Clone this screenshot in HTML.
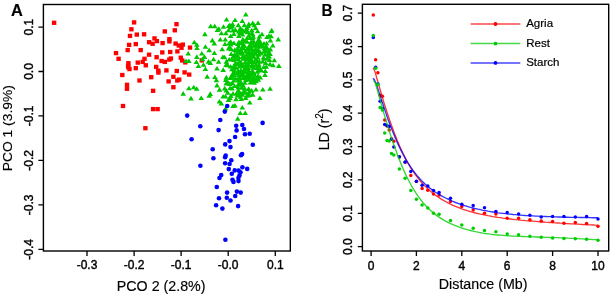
<!DOCTYPE html>
<html><head><meta charset="utf-8"><style>html,body{margin:0;padding:0;background:#fff;width:610px;height:296px;overflow:hidden}svg{display:block;will-change:transform}text{stroke:#000;stroke-width:0.15px}.tk text{stroke-width:0.4px}.lg{stroke-width:0.2px}</style></head><body>
<svg width="610" height="296" viewBox="0 0 610 296">
<rect width="610" height="296" fill="#fff"/>
<g fill="#ff0000">
<rect x="51.90" y="20.65" width="4.4" height="4.3"/>
<rect x="131.90" y="20.25" width="4.4" height="4.3"/>
<rect x="129.20" y="27.15" width="4.4" height="4.3"/>
<rect x="127.80" y="33.75" width="4.4" height="4.3"/>
<rect x="134.60" y="32.45" width="4.4" height="4.3"/>
<rect x="126.90" y="42.75" width="4.4" height="4.3"/>
<rect x="133.60" y="41.95" width="4.4" height="4.3"/>
<rect x="125.50" y="47.95" width="4.4" height="4.3"/>
<rect x="138.50" y="47.95" width="4.4" height="4.3"/>
<rect x="174.30" y="22.05" width="4.4" height="4.3"/>
<rect x="172.60" y="28.15" width="4.4" height="4.3"/>
<rect x="162.60" y="29.25" width="4.4" height="4.3"/>
<rect x="141.90" y="32.15" width="4.4" height="4.3"/>
<rect x="152.30" y="36.25" width="4.4" height="4.3"/>
<rect x="154.70" y="38.95" width="4.4" height="4.3"/>
<rect x="146.90" y="40.05" width="4.4" height="4.3"/>
<rect x="150.40" y="41.65" width="4.4" height="4.3"/>
<rect x="167.20" y="36.95" width="4.4" height="4.3"/>
<rect x="167.20" y="39.25" width="4.4" height="4.3"/>
<rect x="160.40" y="40.95" width="4.4" height="4.3"/>
<rect x="173.40" y="41.45" width="4.4" height="4.3"/>
<rect x="176.60" y="43.35" width="4.4" height="4.3"/>
<rect x="180.60" y="42.45" width="4.4" height="4.3"/>
<rect x="179.30" y="45.65" width="4.4" height="4.3"/>
<rect x="175.20" y="49.25" width="4.4" height="4.3"/>
<rect x="187.80" y="45.45" width="4.4" height="4.3"/>
<rect x="168.00" y="49.85" width="4.4" height="4.3"/>
<rect x="160.10" y="50.25" width="4.4" height="4.3"/>
<rect x="168.70" y="56.35" width="4.4" height="4.3"/>
<rect x="178.60" y="55.55" width="4.4" height="4.3"/>
<rect x="180.00" y="58.35" width="4.4" height="4.3"/>
<rect x="183.10" y="60.25" width="4.4" height="4.3"/>
<rect x="199.60" y="58.25" width="4.4" height="4.3"/>
<rect x="113.80" y="50.95" width="4.4" height="4.3"/>
<rect x="116.40" y="56.65" width="4.4" height="4.3"/>
<rect x="126.20" y="61.05" width="4.4" height="4.3"/>
<rect x="135.60" y="60.45" width="4.4" height="4.3"/>
<rect x="125.90" y="63.75" width="4.4" height="4.3"/>
<rect x="127.30" y="66.95" width="4.4" height="4.3"/>
<rect x="133.60" y="66.05" width="4.4" height="4.3"/>
<rect x="120.10" y="72.85" width="4.4" height="4.3"/>
<rect x="137.30" y="78.35" width="4.4" height="4.3"/>
<rect x="124.80" y="82.65" width="4.4" height="4.3"/>
<rect x="124.80" y="86.65" width="4.4" height="4.3"/>
<rect x="146.90" y="52.55" width="4.4" height="4.3"/>
<rect x="154.40" y="55.05" width="4.4" height="4.3"/>
<rect x="142.30" y="56.65" width="4.4" height="4.3"/>
<rect x="140.50" y="59.75" width="4.4" height="4.3"/>
<rect x="143.60" y="63.15" width="4.4" height="4.3"/>
<rect x="159.40" y="58.85" width="4.4" height="4.3"/>
<rect x="162.60" y="59.75" width="4.4" height="4.3"/>
<rect x="154.00" y="64.75" width="4.4" height="4.3"/>
<rect x="156.10" y="68.55" width="4.4" height="4.3"/>
<rect x="164.20" y="68.25" width="4.4" height="4.3"/>
<rect x="174.60" y="68.85" width="4.4" height="4.3"/>
<rect x="149.00" y="75.05" width="4.4" height="4.3"/>
<rect x="171.20" y="74.65" width="4.4" height="4.3"/>
<rect x="166.40" y="79.25" width="4.4" height="4.3"/>
<rect x="175.10" y="78.35" width="4.4" height="4.3"/>
<rect x="120.80" y="103.85" width="4.4" height="4.3"/>
<rect x="171.20" y="85.05" width="4.4" height="4.3"/>
<rect x="150.90" y="88.65" width="4.4" height="4.3"/>
<rect x="150.90" y="106.95" width="4.4" height="4.3"/>
<rect x="155.40" y="106.95" width="4.4" height="4.3"/>
<rect x="143.20" y="126.05" width="4.4" height="4.3"/>
<rect x="182.40" y="70.25" width="4.4" height="4.3"/>
<rect x="187.00" y="72.45" width="4.4" height="4.3"/>
<rect x="177.00" y="77.45" width="4.4" height="4.3"/>
<rect x="167.10" y="57.45" width="4.4" height="4.3"/>
<rect x="156.20" y="70.45" width="4.4" height="4.3"/>
<rect x="126.20" y="65.25" width="4.4" height="4.3"/>
</g>
<path fill="#00c800" d="M252.7 20.6L255.5 25.2L249.9 25.2ZM258.1 20.5L260.9 25.1L255.3 25.1ZM214.7 23.6L217.5 28.2L211.9 28.2ZM229.9 22.6L232.7 27.2L227.1 27.2ZM232.3 23.6L235.1 28.2L229.5 28.2ZM248.1 23.4L250.9 28.0L245.3 28.0ZM254.3 22.6L257.1 27.2L251.5 27.2ZM231.0 24.9L233.8 29.5L228.2 29.5ZM240.4 25.7L243.2 30.3L237.6 30.3ZM246.8 25.3L249.6 29.9L244.0 29.9ZM255.6 25.4L258.4 30.0L252.8 30.0ZM217.4 27.4L220.2 32.0L214.6 32.0ZM232.8 28.0L235.6 32.6L230.0 32.6ZM235.4 27.3L238.2 31.9L232.6 31.9ZM238.7 29.0L241.5 33.6L235.9 33.6ZM242.8 27.7L245.6 32.3L240.0 32.3ZM245.6 28.8L248.4 33.4L242.8 33.4ZM247.2 28.2L250.0 32.8L244.4 32.8ZM251.8 27.7L254.6 32.3L249.0 32.3ZM257.6 28.7L260.4 33.3L254.8 33.3ZM271.7 27.8L274.5 32.4L268.9 32.4ZM225.9 30.7L228.7 35.3L223.1 35.3ZM233.8 31.4L236.6 36.0L231.0 36.0ZM240.0 30.4L242.8 35.0L237.2 35.0ZM252.8 31.7L255.6 36.3L250.0 36.3ZM230.7 33.4L233.5 38.0L227.9 38.0ZM238.8 33.4L241.6 38.0L236.0 38.0ZM248.8 32.9L251.6 37.5L246.0 37.5ZM253.2 34.2L256.0 38.8L250.4 38.8ZM259.4 33.9L262.2 38.5L256.6 38.5ZM269.0 33.2L271.8 37.8L266.2 37.8ZM225.3 36.9L228.1 41.5L222.5 41.5ZM242.9 36.8L245.7 41.4L240.1 41.4ZM247.1 35.4L249.9 40.0L244.3 40.0ZM250.3 35.5L253.1 40.1L247.5 40.1ZM252.5 35.7L255.3 40.3L249.7 40.3ZM258.8 36.8L261.6 41.4L256.0 41.4ZM212.3 37.8L215.1 42.4L209.5 42.4ZM230.7 39.2L233.5 43.8L227.9 43.8ZM238.9 39.4L241.7 44.0L236.1 44.0ZM241.5 39.4L244.3 44.0L238.7 44.0ZM245.1 38.5L247.9 43.1L242.3 43.1ZM247.2 39.2L250.0 43.8L244.4 43.8ZM251.1 39.4L253.9 44.0L248.3 44.0ZM253.5 38.8L256.3 43.4L250.7 43.4ZM257.3 39.2L260.1 43.8L254.5 43.8ZM259.7 38.3L262.5 42.9L256.9 42.9ZM225.0 41.5L227.8 46.1L222.2 46.1ZM229.2 40.6L232.0 45.2L226.4 45.2ZM230.8 42.0L233.6 46.6L228.0 46.6ZM233.9 40.4L236.7 45.0L231.1 45.0ZM237.8 41.5L240.6 46.1L235.0 46.1ZM240.9 40.5L243.7 45.1L238.1 45.1ZM243.3 41.8L246.1 46.4L240.5 46.4ZM250.2 42.1L253.0 46.7L247.4 46.7ZM252.0 40.6L254.8 45.2L249.2 45.2ZM256.1 41.8L258.9 46.4L253.3 46.4ZM259.1 41.5L261.9 46.1L256.3 46.1ZM260.8 40.5L263.6 45.1L258.0 45.1ZM264.0 40.9L266.8 45.5L261.2 45.5ZM266.6 40.8L269.4 45.4L263.8 45.4ZM229.3 44.6L232.1 49.2L226.5 49.2ZM238.5 43.8L241.3 48.4L235.7 48.4ZM242.5 44.3L245.3 48.9L239.7 48.9ZM244.7 43.6L247.5 48.2L241.9 48.2ZM248.6 44.2L251.4 48.8L245.8 48.8ZM250.4 43.8L253.2 48.4L247.6 48.4ZM254.1 43.2L256.9 47.8L251.3 47.8ZM257.7 43.4L260.5 48.0L254.9 48.0ZM259.6 44.2L262.4 48.8L256.8 48.8ZM262.4 43.3L265.2 47.9L259.6 47.9ZM265.7 43.9L268.5 48.5L262.9 48.5ZM222.2 46.7L225.0 51.3L219.4 51.3ZM228.7 46.0L231.5 50.6L225.9 50.6ZM231.4 46.7L234.2 51.3L228.6 51.3ZM234.8 47.3L237.6 51.9L232.0 51.9ZM237.8 47.0L240.6 51.6L235.0 51.6ZM240.5 47.3L243.3 51.9L237.7 51.9ZM243.6 45.9L246.4 50.5L240.8 50.5ZM247.3 46.5L250.1 51.1L244.5 51.1ZM249.6 46.6L252.4 51.2L246.8 51.2ZM252.5 46.7L255.3 51.3L249.7 51.3ZM255.5 46.3L258.3 50.9L252.7 50.9ZM258.0 46.8L260.8 51.4L255.2 51.4ZM264.2 45.7L267.0 50.3L261.4 50.3ZM267.3 45.6L270.1 50.2L264.5 50.2ZM270.4 46.8L273.2 51.4L267.6 51.4ZM236.2 48.2L239.0 52.8L233.4 52.8ZM239.8 49.4L242.6 54.0L237.0 54.0ZM241.3 48.5L244.1 53.1L238.5 53.1ZM245.5 48.8L248.3 53.4L242.7 53.4ZM248.7 49.6L251.5 54.2L245.9 54.2ZM251.7 49.3L254.5 53.9L248.9 53.9ZM254.3 49.8L257.1 54.4L251.5 54.4ZM257.6 48.5L260.4 53.1L254.8 53.1ZM260.1 49.5L262.9 54.1L257.3 54.1ZM263.7 49.2L266.5 53.8L260.9 53.8ZM265.5 48.4L268.3 53.0L262.7 53.0ZM268.2 49.0L271.0 53.6L265.4 53.6ZM231.2 51.4L234.0 56.0L228.4 56.0ZM234.7 51.9L237.5 56.5L231.9 56.5ZM236.7 52.1L239.5 56.7L233.9 56.7ZM240.6 50.9L243.4 55.5L237.8 55.5ZM242.6 51.1L245.4 55.7L239.8 55.7ZM246.7 52.0L249.5 56.6L243.9 56.6ZM250.2 51.9L253.0 56.5L247.4 56.5ZM252.7 52.1L255.5 56.7L249.9 56.7ZM255.8 51.2L258.6 55.8L253.0 55.8ZM258.4 52.2L261.2 56.8L255.6 56.8ZM260.9 50.9L263.7 55.5L258.1 55.5ZM265.2 52.0L268.0 56.6L262.4 56.6ZM268.1 52.2L270.9 56.8L265.3 56.8ZM270.1 51.3L272.9 55.9L267.3 55.9ZM224.6 54.7L227.4 59.3L221.8 59.3ZM233.4 53.4L236.2 58.0L230.6 58.0ZM236.3 54.9L239.1 59.5L233.5 59.5ZM238.7 54.7L241.5 59.3L235.9 59.3ZM242.6 54.3L245.4 58.9L239.8 58.9ZM244.8 54.4L247.6 59.0L242.0 59.0ZM248.3 53.7L251.1 58.3L245.5 58.3ZM250.8 54.6L253.6 59.2L248.0 59.2ZM253.9 54.1L256.7 58.7L251.1 58.7ZM257.8 54.8L260.6 59.4L255.0 59.4ZM263.4 54.9L266.2 59.5L260.6 59.5ZM269.2 54.0L272.0 58.6L266.4 58.6ZM229.2 57.0L232.0 61.6L226.4 61.6ZM231.7 56.4L234.5 61.0L228.9 61.0ZM233.9 57.3L236.7 61.9L231.1 61.9ZM237.6 56.7L240.4 61.3L234.8 61.3ZM243.3 56.2L246.1 60.8L240.5 60.8ZM247.0 56.3L249.8 60.9L244.2 60.9ZM249.2 57.0L252.0 61.6L246.4 61.6ZM251.7 57.8L254.5 62.4L248.9 62.4ZM255.5 57.0L258.3 61.6L252.7 61.6ZM264.1 56.1L266.9 60.7L261.3 60.7ZM266.9 56.2L269.7 60.8L264.1 60.8ZM274.3 57.7L277.1 62.3L271.5 62.3ZM226.4 59.1L229.2 63.7L223.6 63.7ZM235.5 60.3L238.3 64.9L232.7 64.9ZM239.7 58.9L242.5 63.5L236.9 63.5ZM241.3 60.3L244.1 64.9L238.5 64.9ZM245.2 59.4L248.0 64.0L242.4 64.0ZM248.6 59.5L251.4 64.1L245.8 64.1ZM250.4 59.0L253.2 63.6L247.6 63.6ZM254.4 59.6L257.2 64.2L251.6 64.2ZM257.7 59.1L260.5 63.7L254.9 63.7ZM259.4 59.1L262.2 63.7L256.6 63.7ZM262.7 58.9L265.5 63.5L259.9 63.5ZM265.7 60.3L268.5 64.9L262.9 64.9ZM226.1 62.3L228.9 66.9L223.3 66.9ZM227.7 62.6L230.5 67.2L224.9 67.2ZM234.2 62.8L237.0 67.4L231.4 67.4ZM237.5 61.3L240.3 65.9L234.7 65.9ZM240.5 62.8L243.3 67.4L237.7 67.4ZM242.9 62.7L245.7 67.3L240.1 67.3ZM245.9 61.9L248.7 66.5L243.1 66.5ZM248.6 62.2L251.4 66.8L245.8 66.8ZM252.5 61.5L255.3 66.1L249.7 66.1ZM256.1 62.8L258.9 67.4L253.3 67.4ZM258.9 61.9L261.7 66.5L256.1 66.5ZM270.0 61.6L272.8 66.2L267.2 66.2ZM273.1 62.7L275.9 67.3L270.3 67.3ZM230.6 63.9L233.4 68.5L227.8 68.5ZM233.8 65.5L236.6 70.1L231.0 70.1ZM235.9 65.0L238.7 69.6L233.1 69.6ZM239.1 64.0L241.9 68.6L236.3 68.6ZM242.0 63.9L244.8 68.5L239.2 68.5ZM245.8 65.3L248.6 69.9L243.0 69.9ZM248.2 65.3L251.0 69.9L245.4 69.9ZM251.7 63.9L254.5 68.5L248.9 68.5ZM253.6 65.1L256.4 69.7L250.8 69.7ZM257.1 65.5L259.9 70.1L254.3 70.1ZM259.6 64.8L262.4 69.4L256.8 69.4ZM263.8 64.4L266.6 69.0L261.0 69.0ZM223.2 67.3L226.0 71.9L220.4 71.9ZM231.9 66.7L234.7 71.3L229.1 71.3ZM234.2 67.7L237.0 72.3L231.4 72.3ZM238.1 67.9L240.9 72.5L235.3 72.5ZM240.9 67.8L243.7 72.4L238.1 72.4ZM243.5 67.9L246.3 72.5L240.7 72.5ZM247.2 66.7L250.0 71.3L244.4 71.3ZM248.6 67.8L251.4 72.4L245.8 72.4ZM252.5 68.2L255.3 72.8L249.7 72.8ZM258.7 67.1L261.5 71.7L255.9 71.7ZM261.4 67.8L264.2 72.4L258.6 72.4ZM233.6 70.0L236.4 74.6L230.8 74.6ZM236.7 70.3L239.5 74.9L233.9 74.9ZM239.9 70.7L242.7 75.3L237.1 75.3ZM241.4 69.6L244.2 74.2L238.6 74.2ZM245.0 69.4L247.8 74.0L242.2 74.0ZM248.2 70.2L251.0 74.8L245.4 74.8ZM251.9 70.2L254.7 74.8L249.1 74.8ZM253.8 70.5L256.6 75.1L251.0 75.1ZM257.3 69.1L260.1 73.7L254.5 73.7ZM231.5 73.1L234.3 77.7L228.7 77.7ZM233.9 72.3L236.7 76.9L231.1 76.9ZM238.3 72.2L241.1 76.8L235.5 76.8ZM239.8 72.6L242.6 77.2L237.0 77.2ZM243.3 71.8L246.1 76.4L240.5 76.4ZM247.1 72.3L249.9 76.9L244.3 76.9ZM248.9 72.2L251.7 76.8L246.1 76.8ZM251.7 72.9L254.5 77.5L248.9 77.5ZM254.9 73.0L257.7 77.6L252.1 77.6ZM258.1 73.2L260.9 77.8L255.3 77.8ZM226.3 74.8L229.1 79.4L223.5 79.4ZM230.3 75.5L233.1 80.1L227.5 80.1ZM232.8 75.5L235.6 80.1L230.0 80.1ZM235.5 75.8L238.3 80.4L232.7 80.4ZM239.2 74.6L242.0 79.2L236.4 79.2ZM242.7 75.6L245.5 80.2L239.9 80.2ZM244.2 74.4L247.0 79.0L241.4 79.0ZM247.5 74.8L250.3 79.4L244.7 79.4ZM250.2 74.9L253.0 79.5L247.4 79.5ZM253.4 75.8L256.2 80.4L250.6 80.4ZM257.4 74.8L260.2 79.4L254.6 79.4ZM260.3 74.9L263.1 79.5L257.5 79.5ZM225.8 77.3L228.6 81.9L223.0 81.9ZM233.9 77.9L236.7 82.5L231.1 82.5ZM238.1 77.9L240.9 82.5L235.3 82.5ZM239.9 78.1L242.7 82.7L237.1 82.7ZM245.8 77.4L248.6 82.0L243.0 82.0ZM249.0 77.0L251.8 81.6L246.2 81.6ZM252.0 78.2L254.8 82.8L249.2 82.8ZM254.8 77.5L257.6 82.1L252.0 82.1ZM258.3 77.2L261.1 81.8L255.5 81.8ZM226.2 80.8L229.0 85.4L223.4 85.4ZM229.9 81.3L232.7 85.9L227.1 85.9ZM232.2 80.3L235.0 84.9L229.4 84.9ZM239.6 80.9L242.4 85.5L236.8 85.5ZM241.6 80.7L244.4 85.3L238.8 85.3ZM244.9 80.1L247.7 84.7L242.1 84.7ZM250.4 80.0L253.2 84.6L247.6 84.6ZM254.1 80.1L256.9 84.7L251.3 84.7ZM234.6 83.5L237.4 88.1L231.8 88.1ZM238.0 82.2L240.8 86.8L235.2 86.8ZM240.3 82.2L243.1 86.8L237.5 86.8ZM243.0 82.7L245.8 87.3L240.2 87.3ZM224.7 85.8L227.5 90.4L221.9 90.4ZM230.1 85.4L232.9 90.0L227.3 90.0ZM232.1 85.8L234.9 90.4L229.3 90.4ZM238.2 85.0L241.0 89.6L235.4 89.6ZM241.6 85.2L244.4 89.8L238.8 89.8ZM244.6 85.8L247.4 90.4L241.8 90.4ZM248.8 86.5L251.6 91.1L246.0 91.1ZM238.2 88.0L241.0 92.6L235.4 92.6ZM243.8 89.0L246.6 93.6L241.0 93.6ZM251.7 88.1L254.5 92.7L248.9 92.7ZM227.8 90.2L230.6 94.8L225.0 94.8ZM233.0 91.1L235.8 95.7L230.2 95.7ZM236.5 90.8L239.3 95.4L233.7 95.4ZM239.7 90.1L242.5 94.7L236.9 94.7ZM241.2 91.1L244.0 95.7L238.4 95.7ZM245.7 90.1L248.5 94.7L242.9 94.7ZM230.8 93.3L233.6 97.9L228.0 97.9ZM237.5 92.8L240.3 97.4L234.7 97.4ZM240.5 94.2L243.3 98.8L237.7 98.8ZM246.9 93.1L249.7 97.7L244.1 97.7ZM249.1 92.7L251.9 97.3L246.3 97.3ZM230.0 95.6L232.8 100.2L227.2 100.2ZM236.0 96.6L238.8 101.2L233.2 101.2ZM245.7 95.3L248.5 99.9L242.9 99.9ZM204.9 31.6L207.7 36.2L202.1 36.2ZM194.3 39.7L197.1 44.3L191.5 44.3ZM196.8 42.2L199.6 46.8L194.0 46.8ZM197.0 45.5L199.8 50.1L194.2 50.1ZM205.4 44.2L208.2 48.8L202.6 48.8ZM209.2 47.6L212.0 52.2L206.4 52.2ZM188.2 50.9L191.0 55.5L185.4 55.5ZM201.8 50.9L204.6 55.5L199.0 55.5ZM196.8 54.3L199.6 58.9L194.0 58.9ZM204.5 54.3L207.3 58.9L201.7 58.9ZM188.9 58.4L191.7 63.0L186.1 63.0ZM186.0 58.4L188.8 63.0L183.2 63.0ZM196.4 59.5L199.2 64.1L193.6 64.1ZM208.5 59.1L211.3 63.7L205.7 63.7ZM198.4 63.5L201.2 68.1L195.6 68.1ZM203.5 62.2L206.3 66.8L200.7 66.8ZM205.4 66.5L208.2 71.1L202.6 71.1ZM214.4 50.4L217.2 55.0L211.6 55.0ZM213.6 56.7L216.4 61.3L210.8 61.3ZM202.5 56.6L205.3 61.2L199.7 61.2ZM218.6 59.2L221.4 63.8L215.8 63.8ZM217.0 65.9L219.8 70.5L214.2 70.5ZM207.2 74.1L210.0 78.7L204.4 78.7ZM214.9 74.4L217.7 79.0L212.1 79.0ZM222.9 54.5L225.7 59.1L220.1 59.1ZM217.0 82.8L219.8 87.4L214.2 87.4ZM228.0 79.8L230.8 84.4L225.2 84.4ZM219.5 87.1L222.3 91.7L216.7 91.7ZM226.3 87.9L229.1 92.5L223.5 92.5ZM210.2 91.3L213.0 95.9L207.4 95.9ZM196.7 86.2L199.5 90.8L193.9 90.8ZM245.8 12.0L248.6 16.6L243.0 16.6ZM226.5 16.9L229.3 21.5L223.7 21.5ZM235.0 17.5L237.8 22.1L232.2 22.1ZM242.3 18.5L245.1 23.1L239.5 23.1ZM248.8 21.6L251.6 26.2L246.0 26.2ZM210.7 23.6L213.5 28.2L207.9 28.2ZM218.8 26.2L221.6 30.8L216.0 30.8ZM223.5 24.2L226.3 28.8L220.7 28.8ZM232.6 21.6L235.4 26.2L229.8 26.2ZM238.3 22.6L241.1 27.2L235.5 27.2ZM244.4 22.6L247.2 27.2L241.6 27.2ZM221.4 30.7L224.2 35.3L218.6 35.3ZM228.5 27.7L231.3 32.3L225.7 32.3ZM240.7 28.3L243.5 32.9L237.9 32.9ZM247.8 29.7L250.6 34.3L245.0 34.3ZM251.9 30.3L254.7 34.9L249.1 34.9ZM271.1 28.7L273.9 33.3L268.3 33.3ZM271.1 33.7L273.9 38.3L268.3 38.3ZM278.2 36.8L281.0 41.4L275.4 41.4ZM262.0 31.7L264.8 36.3L259.2 36.3ZM272.8 42.9L275.6 47.5L270.0 47.5ZM214.3 40.8L217.1 45.4L211.5 45.4ZM242.5 31.9L245.3 36.5L239.7 36.5ZM267.0 34.4L269.8 39.0L264.2 39.0ZM270.4 37.8L273.2 42.4L267.6 42.4ZM228.6 23.5L231.4 28.1L225.8 28.1ZM220.3 37.0L223.1 41.6L217.5 41.6ZM278.9 63.3L281.7 67.9L276.1 67.9ZM269.6 57.4L272.4 62.0L266.8 62.0ZM266.2 64.2L269.0 68.8L263.4 68.8ZM265.3 68.4L268.1 73.0L262.5 73.0ZM265.0 72.3L267.8 76.9L262.2 76.9ZM256.9 75.2L259.7 79.8L254.1 79.8ZM256.0 78.6L258.8 83.2L253.2 83.2ZM270.1 86.2L272.9 90.8L267.3 90.8ZM262.8 87.0L265.6 91.6L260.0 91.6ZM256.0 87.0L258.8 91.6L253.2 91.6ZM248.4 86.5L251.2 91.1L245.6 91.1ZM252.7 92.1L255.5 96.7L249.9 96.7ZM259.9 95.4L262.7 100.0L257.1 100.0ZM242.5 92.1L245.3 96.7L239.7 96.7ZM249.8 99.9L252.6 104.5L247.0 104.5ZM242.3 105.0L245.1 109.6L239.5 109.6ZM240.3 110.4L243.1 115.0L237.5 115.0ZM245.2 110.4L248.0 115.0L242.4 115.0ZM233.0 103.5L235.8 108.1L230.2 108.1ZM235.0 102.9L237.8 107.5L232.2 107.5ZM225.5 106.0L228.3 110.6L222.7 110.6ZM219.4 98.9L222.2 103.5L216.6 103.5ZM221.4 100.9L224.2 105.5L218.6 105.5ZM201.2 95.4L204.0 100.0L198.4 100.0ZM191.0 95.8L193.8 100.4L188.2 100.4ZM193.7 84.7L196.5 89.3L190.9 89.3ZM216.4 77.6L219.2 82.2L213.6 82.2ZM210.3 60.3L213.1 64.9L207.5 64.9ZM237.7 116.1L240.5 120.7L234.9 120.7ZM225.5 93.8L228.3 98.4L222.7 98.4ZM248.8 89.8L251.6 94.4L246.0 94.4ZM188.9 85.7L191.7 90.3L186.1 90.3ZM183.2 91.1L186.0 95.7L180.4 95.7ZM209.2 93.1L212.0 97.7L206.4 97.7ZM223.1 94.0L225.9 98.6L220.3 98.6ZM241.2 96.5L244.0 101.1L238.4 101.1ZM228.5 97.3L231.3 101.9L225.7 101.9Z"/>
<g fill="#0000ff">
<circle cx="187.2" cy="115.6" r="2.3"/>
<circle cx="220.3" cy="120" r="2.3"/>
<circle cx="200.3" cy="126.3" r="2.3"/>
<circle cx="218.6" cy="130.1" r="2.3"/>
<circle cx="191.6" cy="139.3" r="2.3"/>
<circle cx="224.8" cy="111.6" r="2.3"/>
<circle cx="227.2" cy="106" r="2.3"/>
<circle cx="236.2" cy="125.8" r="2.3"/>
<circle cx="242.3" cy="125.0" r="2.3"/>
<circle cx="236.6" cy="130.4" r="2.3"/>
<circle cx="244.0" cy="129.0" r="2.3"/>
<circle cx="245.0" cy="134.3" r="2.3"/>
<circle cx="249.7" cy="133.8" r="2.3"/>
<circle cx="235.1" cy="137" r="2.3"/>
<circle cx="229.5" cy="141.1" r="2.3"/>
<circle cx="225.2" cy="144.4" r="2.3"/>
<circle cx="262.6" cy="122.9" r="2.3"/>
<circle cx="252.8" cy="144.7" r="2.3"/>
<circle cx="230.5" cy="147.1" r="2.3"/>
<circle cx="212.7" cy="149.3" r="2.3"/>
<circle cx="242.1" cy="154.1" r="2.3"/>
<circle cx="241" cy="155.3" r="2.3"/>
<circle cx="225.7" cy="155.5" r="2.3"/>
<circle cx="225.1" cy="157.2" r="2.3"/>
<circle cx="213.4" cy="158.3" r="2.3"/>
<circle cx="231.3" cy="160.3" r="2.3"/>
<circle cx="225.1" cy="163.3" r="2.3"/>
<circle cx="229.6" cy="164" r="2.3"/>
<circle cx="200.4" cy="165.8" r="2.3"/>
<circle cx="228.8" cy="169.1" r="2.3"/>
<circle cx="234.7" cy="170.4" r="2.3"/>
<circle cx="238.6" cy="170.6" r="2.3"/>
<circle cx="242.4" cy="167.3" r="2.3"/>
<circle cx="247.2" cy="168.9" r="2.3"/>
<circle cx="231.8" cy="173.8" r="2.3"/>
<circle cx="240.5" cy="172.3" r="2.3"/>
<circle cx="221.2" cy="175.1" r="2.3"/>
<circle cx="219.5" cy="178" r="2.3"/>
<circle cx="239.5" cy="175.4" r="2.3"/>
<circle cx="238.4" cy="178" r="2.3"/>
<circle cx="232.5" cy="179.7" r="2.3"/>
<circle cx="233.5" cy="181.9" r="2.3"/>
<circle cx="238.5" cy="181.1" r="2.3"/>
<circle cx="216.8" cy="187" r="2.3"/>
<circle cx="227.1" cy="192.6" r="2.3"/>
<circle cx="236.9" cy="191.6" r="2.3"/>
<circle cx="240.7" cy="192.6" r="2.3"/>
<circle cx="219" cy="198.2" r="2.3"/>
<circle cx="226.8" cy="197.7" r="2.3"/>
<circle cx="235.2" cy="196.0" r="2.3"/>
<circle cx="230.5" cy="200.5" r="2.3"/>
<circle cx="216.1" cy="205.3" r="2.3"/>
<circle cx="222.4" cy="208.6" r="2.3"/>
<circle cx="238.1" cy="206.1" r="2.3"/>
<circle cx="225.4" cy="239.8" r="2.3"/>
</g>
<rect x="43.4" y="4.5" width="246.9" height="246.5" fill="none" stroke="#000" stroke-width="1.4"/>
<path stroke="#000" stroke-width="1.3" fill="none" d="M38.4 27.1H43.4M38.4 71.5H43.4M38.4 115.9H43.4M38.4 160.4H43.4M38.4 204.8H43.4M38.4 249.3H43.4M87.0 251.0V255.9M134.1 251.0V255.9M181.1 251.0V255.9M228.2 251.0V255.9M275.3 251.0V255.9"/>
<g class="tk" font-family="Liberation Sans, sans-serif" font-size="12" fill="#000" text-anchor="middle">
<text transform="translate(33.3 27.1) rotate(-90)">0.1</text>
<text transform="translate(33.3 71.5) rotate(-90)">0.0</text>
<text transform="translate(33.3 115.9) rotate(-90)">-0.1</text>
<text transform="translate(33.3 160.4) rotate(-90)">-0.2</text>
<text transform="translate(33.3 204.8) rotate(-90)">-0.3</text>
<text transform="translate(33.3 249.3) rotate(-90)">-0.4</text>
<text x="87.0" y="268.5">-0.3</text>
<text x="134.1" y="268.5">-0.2</text>
<text x="181.1" y="268.5">-0.1</text>
<text x="228.2" y="268.5">-0.0</text>
<text x="275.3" y="268.5">0.1</text>
</g>
<text font-family="Liberation Sans, sans-serif" font-size="14.25" x="116.8" y="290.8">PCO 2 (2.8%)</text>
<text font-family="Liberation Sans, sans-serif" font-size="13" text-anchor="middle" transform="translate(11.9 128.2) rotate(-90) scale(1.065 1)">PCO 1 (3.9%)</text>
<text font-family="Liberation Sans, sans-serif" font-size="16.4" font-weight="bold" x="11.1" y="15.6">A</text>
<path d="M373.1 67.8 L373.8 68.9 L374.5 70.5 L375.2 72.5 L375.9 74.7 L376.5 77.1 L377.2 79.5 L377.9 81.9 L378.6 84.3 L379.3 86.8 L380.0 89.2 L380.7 91.6 L381.4 94.0 L382.1 96.3 L382.8 98.6 L383.4 100.9 L384.1 103.2 L384.8 105.4 L385.5 107.6 L386.2 109.7 L386.9 111.9 L387.6 114.0 L388.3 116.0 L389.0 118.1 L389.7 120.1 L390.3 122.1 L391.0 124.0 L391.7 125.9 L392.4 127.8 L393.1 129.7 L393.8 131.6 L394.5 133.4 L395.2 135.2 L395.9 136.9 L396.6 138.7 L397.2 140.4 L397.9 142.1 L398.6 143.7 L399.3 145.3 L400.0 146.9 L400.5 148.0 L403.0 153.4 L405.5 158.4 L408.0 163.0 L410.5 167.3 L413.0 171.2 L415.5 174.8 L418.0 178.2 L420.5 181.2 L423.0 184.0 L425.5 186.6 L428.0 189.0 L430.5 191.2 L433.0 193.3 L435.5 195.2 L438.0 196.9 L440.5 198.6 L443.0 200.1 L445.5 201.5 L448.0 202.9 L450.5 204.1 L453.0 205.3 L455.5 206.4 L458.0 207.4 L460.5 208.4 L463.0 209.3 L465.5 210.1 L468.0 210.9 L470.5 211.6 L473.0 212.3 L475.5 213.0 L478.0 213.6 L480.5 214.2 L483.0 214.7 L485.5 215.2 L488.0 215.7 L490.5 216.1 L493.0 216.6 L495.5 217.0 L498.0 217.4 L500.5 217.7 L503.0 218.1 L505.5 218.4 L508.0 218.7 L510.5 219.0 L513.0 219.3 L515.5 219.6 L518.0 219.8 L520.5 220.1 L523.0 220.3 L525.5 220.6 L528.0 220.8 L530.5 221.0 L533.0 221.2 L535.5 221.4 L538.0 221.6 L540.5 221.8 L543.0 222.0 L545.5 222.2 L548.0 222.3 L550.5 222.5 L553.0 222.7 L555.5 222.8 L558.0 223.0 L560.5 223.2 L563.0 223.3 L565.5 223.5 L568.0 223.6 L570.5 223.8 L573.0 223.9 L575.5 224.1 L578.0 224.2 L580.5 224.3 L583.0 224.5 L585.5 224.6 L588.0 224.8 L590.5 224.9 L593.0 225.0 L595.5 225.2 L598.0 225.3" fill="none" stroke="#ff0000" stroke-width="1.35" stroke-opacity="0.8"/>
<g fill="#ff0000">
<circle cx="373.3" cy="15.1" r="1.75"/>
<circle cx="375.6" cy="59.7" r="1.75"/>
<circle cx="377.9" cy="72.7" r="1.75"/>
<circle cx="380.1" cy="95.3" r="1.75"/>
<circle cx="382.4" cy="96.3" r="1.75"/>
<circle cx="384.7" cy="119.9" r="1.75"/>
<circle cx="387.0" cy="126.0" r="1.75"/>
<circle cx="389.2" cy="129.9" r="1.75"/>
<circle cx="391.5" cy="138.8" r="1.75"/>
<circle cx="393.8" cy="141.3" r="1.75"/>
<circle cx="399.4" cy="157.0" r="1.75"/>
<circle cx="405.1" cy="162.2" r="1.75"/>
<circle cx="410.8" cy="175.6" r="1.75"/>
<circle cx="416.4" cy="181.5" r="1.75"/>
<circle cx="422.1" cy="188.4" r="1.75"/>
<circle cx="427.8" cy="190.3" r="1.75"/>
<circle cx="433.5" cy="193.9" r="1.75"/>
<circle cx="439.1" cy="194.9" r="1.75"/>
<circle cx="450.5" cy="201.4" r="1.75"/>
<circle cx="461.8" cy="206.6" r="1.75"/>
<circle cx="473.2" cy="210.1" r="1.75"/>
<circle cx="484.5" cy="213.3" r="1.75"/>
<circle cx="495.9" cy="213.9" r="1.75"/>
<circle cx="507.2" cy="218.3" r="1.75"/>
<circle cx="518.6" cy="218.2" r="1.75"/>
<circle cx="529.9" cy="219.8" r="1.75"/>
<circle cx="541.2" cy="221.0" r="1.75"/>
<circle cx="552.6" cy="221.6" r="1.75"/>
<circle cx="563.9" cy="223.2" r="1.75"/>
<circle cx="575.3" cy="222.4" r="1.75"/>
<circle cx="586.6" cy="223.6" r="1.75"/>
<circle cx="598.0" cy="226.2" r="1.75"/>
</g>
<path d="M372.8 79.1 L373.5 78.8 L374.2 79.5 L374.9 80.8 L375.6 82.4 L376.3 84.3 L377.0 86.2 L377.7 88.3 L378.4 90.5 L379.1 92.6 L379.8 94.8 L380.5 96.9 L381.2 99.1 L381.9 101.2 L382.6 103.4 L383.3 105.5 L384.0 107.5 L384.7 109.6 L385.4 111.6 L386.1 113.6 L386.7 115.6 L387.4 117.6 L388.1 119.5 L388.8 121.4 L389.5 123.3 L390.2 125.2 L390.9 127.0 L391.6 128.8 L392.3 130.6 L393.0 132.3 L393.7 134.1 L394.4 135.8 L395.1 137.5 L395.8 139.1 L396.5 140.7 L397.2 142.3 L397.9 143.9 L398.6 145.4 L399.3 146.9 L400.0 148.3 L400.5 149.4 L403.0 154.3 L405.5 158.8 L408.0 163.0 L410.5 166.9 L413.0 170.5 L415.5 173.7 L418.0 176.8 L420.5 179.5 L423.0 182.1 L425.5 184.4 L428.0 186.6 L430.5 188.6 L433.0 190.5 L435.5 192.2 L438.0 193.8 L440.5 195.3 L443.0 196.7 L445.5 198.0 L448.0 199.2 L450.5 200.4 L453.0 201.5 L455.5 202.5 L458.0 203.4 L460.5 204.3 L463.0 205.1 L465.5 205.9 L468.0 206.7 L470.5 207.4 L473.0 208.0 L475.5 208.6 L478.0 209.2 L480.5 209.7 L483.0 210.3 L485.5 210.7 L488.0 211.2 L490.5 211.6 L493.0 212.0 L495.5 212.4 L498.0 212.8 L500.5 213.1 L503.0 213.4 L505.5 213.7 L508.0 214.0 L510.5 214.2 L513.0 214.5 L515.5 214.7 L518.0 214.9 L520.5 215.1 L523.0 215.3 L525.5 215.5 L528.0 215.6 L530.5 215.8 L533.0 215.9 L535.5 216.1 L538.0 216.2 L540.5 216.3 L543.0 216.4 L545.5 216.5 L548.0 216.6 L550.5 216.7 L553.0 216.8 L555.5 216.9 L558.0 217.0 L560.5 217.0 L563.0 217.1 L565.5 217.2 L568.0 217.2 L570.5 217.3 L573.0 217.3 L575.5 217.4 L578.0 217.4 L580.5 217.5 L583.0 217.5 L585.5 217.6 L588.0 217.6 L590.5 217.6 L593.0 217.7 L595.5 217.7 L598.0 217.7" fill="none" stroke="#0000ff" stroke-width="1.35" stroke-opacity="0.8"/>
<g fill="#0000ff">
<circle cx="373.3" cy="37.5" r="1.75"/>
<circle cx="375.6" cy="67.2" r="1.75"/>
<circle cx="377.9" cy="84.0" r="1.75"/>
<circle cx="380.1" cy="101.3" r="1.75"/>
<circle cx="382.4" cy="108.4" r="1.75"/>
<circle cx="384.7" cy="124.4" r="1.75"/>
<circle cx="387.0" cy="125.6" r="1.75"/>
<circle cx="389.2" cy="126.5" r="1.75"/>
<circle cx="391.5" cy="139.2" r="1.75"/>
<circle cx="393.8" cy="147.0" r="1.75"/>
<circle cx="399.4" cy="156.7" r="1.75"/>
<circle cx="405.1" cy="161.9" r="1.75"/>
<circle cx="410.8" cy="171.4" r="1.75"/>
<circle cx="416.4" cy="181.3" r="1.75"/>
<circle cx="422.1" cy="185.3" r="1.75"/>
<circle cx="427.8" cy="185.9" r="1.75"/>
<circle cx="433.5" cy="190.6" r="1.75"/>
<circle cx="439.1" cy="192.4" r="1.75"/>
<circle cx="450.5" cy="198.3" r="1.75"/>
<circle cx="461.8" cy="204.3" r="1.75"/>
<circle cx="473.2" cy="205.5" r="1.75"/>
<circle cx="484.5" cy="207.7" r="1.75"/>
<circle cx="495.9" cy="211.4" r="1.75"/>
<circle cx="507.2" cy="212.4" r="1.75"/>
<circle cx="518.6" cy="213.9" r="1.75"/>
<circle cx="529.9" cy="215.2" r="1.75"/>
<circle cx="541.2" cy="217.0" r="1.75"/>
<circle cx="552.6" cy="216.4" r="1.75"/>
<circle cx="563.9" cy="216.5" r="1.75"/>
<circle cx="575.3" cy="217.0" r="1.75"/>
<circle cx="586.6" cy="216.4" r="1.75"/>
<circle cx="598.0" cy="218.9" r="1.75"/>
</g>
<path d="M373.1 81.0 L373.8 80.9 L374.5 81.8 L375.2 83.3 L375.9 85.2 L376.5 87.4 L377.2 89.6 L377.9 92.0 L378.6 94.5 L379.3 96.9 L380.0 99.4 L380.7 101.9 L381.4 104.4 L382.1 106.8 L382.8 109.3 L383.4 111.7 L384.1 114.1 L384.8 116.4 L385.5 118.8 L386.2 121.1 L386.9 123.3 L387.6 125.6 L388.3 127.8 L389.0 130.0 L389.7 132.1 L390.3 134.3 L391.0 136.4 L391.7 138.5 L392.4 140.5 L393.1 142.5 L393.8 144.5 L394.5 146.5 L395.2 148.4 L395.9 150.4 L396.6 152.3 L397.2 154.1 L397.9 156.0 L398.6 157.8 L399.3 159.6 L400.0 161.3 L400.5 162.5 L403.0 168.5 L405.5 174.1 L408.0 179.2 L410.5 184.0 L413.0 188.4 L415.5 192.4 L418.0 196.1 L420.5 199.5 L423.0 202.6 L425.5 205.5 L428.0 208.1 L430.5 210.4 L433.0 212.6 L435.5 214.6 L438.0 216.4 L440.5 218.1 L443.0 219.6 L445.5 221.1 L448.0 222.4 L450.5 223.6 L453.0 224.7 L455.5 225.7 L458.0 226.7 L460.5 227.6 L463.0 228.4 L465.5 229.2 L468.0 229.9 L470.5 230.5 L473.0 231.1 L475.5 231.7 L478.0 232.2 L480.5 232.6 L483.0 233.1 L485.5 233.5 L488.0 233.8 L490.5 234.2 L493.0 234.5 L495.5 234.8 L498.0 235.0 L500.5 235.2 L503.0 235.4 L505.5 235.6 L508.0 235.8 L510.5 235.9 L513.0 236.1 L515.5 236.2 L518.0 236.3 L520.5 236.4 L523.0 236.5 L525.5 236.6 L528.0 236.7 L530.5 236.8 L533.0 236.9 L535.5 237.0 L538.0 237.0 L540.5 237.1 L543.0 237.2 L545.5 237.3 L548.0 237.4 L550.5 237.5 L553.0 237.5 L555.5 237.6 L558.0 237.7 L560.5 237.8 L563.0 237.9 L565.5 238.0 L568.0 238.2 L570.5 238.3 L573.0 238.4 L575.5 238.5 L578.0 238.6 L580.5 238.8 L583.0 238.9 L585.5 239.1 L588.0 239.2 L590.5 239.4 L593.0 239.6 L595.5 239.7 L598.0 239.9" fill="none" stroke="#00cd00" stroke-width="1.35" stroke-opacity="0.8"/>
<g fill="#00cd00">
<circle cx="373.3" cy="35.4" r="1.75"/>
<circle cx="375.6" cy="68.2" r="1.75"/>
<circle cx="377.9" cy="84.6" r="1.75"/>
<circle cx="380.1" cy="107.4" r="1.75"/>
<circle cx="382.4" cy="110.1" r="1.75"/>
<circle cx="384.7" cy="132.9" r="1.75"/>
<circle cx="387.0" cy="140.6" r="1.75"/>
<circle cx="389.2" cy="141.0" r="1.75"/>
<circle cx="391.5" cy="153.6" r="1.75"/>
<circle cx="393.8" cy="155.0" r="1.75"/>
<circle cx="399.4" cy="168.9" r="1.75"/>
<circle cx="405.1" cy="178.2" r="1.75"/>
<circle cx="410.8" cy="190.5" r="1.75"/>
<circle cx="416.4" cy="199.2" r="1.75"/>
<circle cx="422.1" cy="204.9" r="1.75"/>
<circle cx="427.8" cy="208.1" r="1.75"/>
<circle cx="433.5" cy="213.3" r="1.75"/>
<circle cx="439.1" cy="214.2" r="1.75"/>
<circle cx="450.5" cy="220.4" r="1.75"/>
<circle cx="461.8" cy="224.9" r="1.75"/>
<circle cx="473.2" cy="228.3" r="1.75"/>
<circle cx="484.5" cy="230.5" r="1.75"/>
<circle cx="495.9" cy="231.8" r="1.75"/>
<circle cx="507.2" cy="233.9" r="1.75"/>
<circle cx="518.6" cy="234.7" r="1.75"/>
<circle cx="529.9" cy="236.2" r="1.75"/>
<circle cx="541.2" cy="237.2" r="1.75"/>
<circle cx="552.6" cy="238.0" r="1.75"/>
<circle cx="563.9" cy="238.4" r="1.75"/>
<circle cx="575.3" cy="238.7" r="1.75"/>
<circle cx="586.6" cy="239.2" r="1.75"/>
<circle cx="598.0" cy="240.2" r="1.75"/>
</g>
<path d="M470.6 24.0H520.3" stroke="#ff0000" stroke-width="1.5" stroke-opacity="0.72"/>
<circle cx="495.5" cy="24.0" r="1.9" fill="#ff0000"/>
<text class="lg" font-family="Liberation Sans, sans-serif" font-size="11.5" x="526.2" y="27.1">Agria</text>
<path d="M470.6 43.6H520.3" stroke="#00c800" stroke-width="1.5" stroke-opacity="0.72"/>
<circle cx="495.5" cy="43.6" r="1.9" fill="#00c800"/>
<text class="lg" font-family="Liberation Sans, sans-serif" font-size="11.5" x="526.2" y="46.7">Rest</text>
<path d="M470.6 62.9H520.3" stroke="#0000ff" stroke-width="1.5" stroke-opacity="0.72"/>
<circle cx="495.5" cy="62.9" r="1.9" fill="#0000ff"/>
<text class="lg" font-family="Liberation Sans, sans-serif" font-size="11.5" x="526.2" y="66.0">Starch</text>
<rect x="362.4" y="4.3" width="246.3" height="246.7" fill="none" stroke="#000" stroke-width="1.4"/>
<path stroke="#000" stroke-width="1.3" fill="none" d="M357.8 246.6H362.4M357.8 213.3H362.4M357.8 179.9H362.4M357.8 146.6H362.4M357.8 113.2H362.4M357.8 79.9H362.4M357.8 46.6H362.4M357.8 13.2H362.4M371.1 251.0V255.9M416.4 251.0V255.9M461.8 251.0V255.9M507.2 251.0V255.9M552.6 251.0V255.9M598.0 251.0V255.9"/>
<g class="tk" font-family="Liberation Sans, sans-serif" font-size="12" fill="#000" text-anchor="middle">
<text transform="translate(352.2 246.6) rotate(-90)">0.0</text>
<text transform="translate(352.2 213.3) rotate(-90)">0.1</text>
<text transform="translate(352.2 179.9) rotate(-90)">0.2</text>
<text transform="translate(352.2 146.6) rotate(-90)">0.3</text>
<text transform="translate(352.2 113.2) rotate(-90)">0.4</text>
<text transform="translate(352.2 79.9) rotate(-90)">0.5</text>
<text transform="translate(352.2 46.6) rotate(-90)">0.6</text>
<text transform="translate(352.2 13.2) rotate(-90)">0.7</text>
<text x="371.1" y="269.6">0</text>
<text x="416.4" y="269.6">2</text>
<text x="461.8" y="269.6">4</text>
<text x="507.2" y="269.6">6</text>
<text x="552.6" y="269.6">8</text>
<text x="598.0" y="269.6">10</text>
</g>
<text font-family="Liberation Sans, sans-serif" font-size="14.25" x="438.8" y="289.2">Distance (Mb)</text>
<text font-family="Liberation Sans, sans-serif" font-size="14.2" text-anchor="middle" transform="translate(328.6 129.4) rotate(-90)">LD (r<tspan font-size="10" dy="-5.2">2</tspan><tspan dy="5.2">)</tspan></text>
<text font-family="Liberation Sans, sans-serif" font-size="16.9" font-weight="bold" transform="translate(321.4 15.8) scale(0.91 1)">B</text>
</svg>
</body></html>
